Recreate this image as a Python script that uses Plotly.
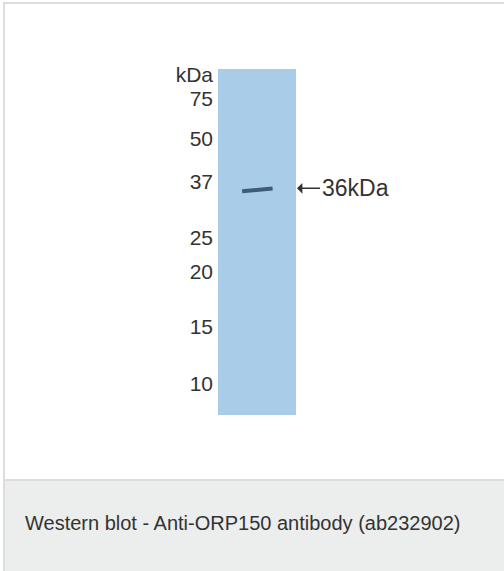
import plotly.graph_objects as go

# ---- data read from the blot ----
marker_labels = ["kDa", "75", "50", "37", "25", "20", "15", "10"]
# migration distance from top of the lane, % of lane length
marker_migration = [1.7, 8.7, 20.2, 32.7, 48.8, 58.7, 74.6, 90.8]
lane_length = [100]
band_kda = [36]
band_migration = [34.9]
band_label = "36kDa"
caption = "Western blot - Anti-ORP150 antibody (ab232902)"

# ---- page geometry (pixels) ----
W, H = 504, 571
PL, PR, PT, PB = 218, 296, 69, 415  # lane/plot area


def px(x):
    return (x - PL) / (PR - PL)


def py(y):
    return (PB - y) / (PB - PT)


FONT = "Arial, Liberation Sans, Helvetica, sans-serif"
LANE = "#A9CDE8"
BAND = "#3D5C78"
TEXT = "#333333"

fig = go.Figure()

# lane
fig.add_trace(go.Bar(
    x=[0.5], y=lane_length, base=[0], width=[1],
    marker=dict(color=LANE, line=dict(width=0)),
    hoverinfo="skip", showlegend=False,
))

# band (slightly tilted like the original)
m = band_migration[0]
fig.add_trace(go.Scatter(
    x=[0.31, 0.45, 0.58, 0.70],
    y=[m + 0.45, m + 0.25, m, m - 0.35],
    mode="lines",
    line=dict(color=BAND, width=4),
    hoverinfo="skip", showlegend=False,
))

shapes = [
    # outer frame (left and top)
    dict(type="rect", xref="paper", yref="paper", x0=px(3), x1=px(5), y0=py(H), y1=py(2),
         fillcolor="#DDDDDD", line=dict(width=0), layer="below"),
    dict(type="rect", xref="paper", yref="paper", x0=px(3), x1=px(W), y0=py(4), y1=py(2),
         fillcolor="#DDDDDD", line=dict(width=0), layer="below"),
    # caption band
    dict(type="rect", xref="paper", yref="paper", x0=px(5), x1=px(W), y0=py(H), y1=py(481),
         fillcolor="#ECEEEE", line=dict(width=0), layer="below"),
    dict(type="rect", xref="paper", yref="paper", x0=px(5), x1=px(W), y0=py(481), y1=py(479),
         fillcolor="#DDDDDD", line=dict(width=0), layer="below"),
]

annotations = [
    dict(xref="paper", yref="y", x=px(297), y=band_migration[0] - 0.4,
         text=band_label, showarrow=True, arrowhead=1, arrowsize=1.2, arrowwidth=1.5,
         arrowcolor=TEXT, ax=58, ay=0, font=dict(family=FONT, size=23, color=TEXT)),
    dict(xref="paper", yref="paper", x=px(23), y=py(523), xanchor="left", yanchor="middle",
         text=caption, showarrow=False, font=dict(family=FONT, size=20, color=TEXT)),
]

fig.update_layout(
    width=W, height=H,
    margin=dict(l=PL, r=W - PR, t=PT, b=H - PB, pad=0),
    paper_bgcolor="white", plot_bgcolor="white",
    bargap=0,
    shapes=shapes, annotations=annotations,
    xaxis=dict(range=[0, 1], visible=False, fixedrange=True),
    yaxis=dict(range=[100, 0], tickmode="array", tickvals=marker_migration,
               ticktext=marker_labels, ticks="", showgrid=False, zeroline=False,
               showline=False, ticklabelstandoff=4,
               tickfont=dict(family=FONT, size=21, color=TEXT), fixedrange=True),
    font=dict(family=FONT, color=TEXT),
)

fig.write_html(
    "out.html",
    config={"displayModeBar": False, "staticPlot": True},
    post_script="document.body.style.margin='0';document.body.style.overflow='hidden';",
)
